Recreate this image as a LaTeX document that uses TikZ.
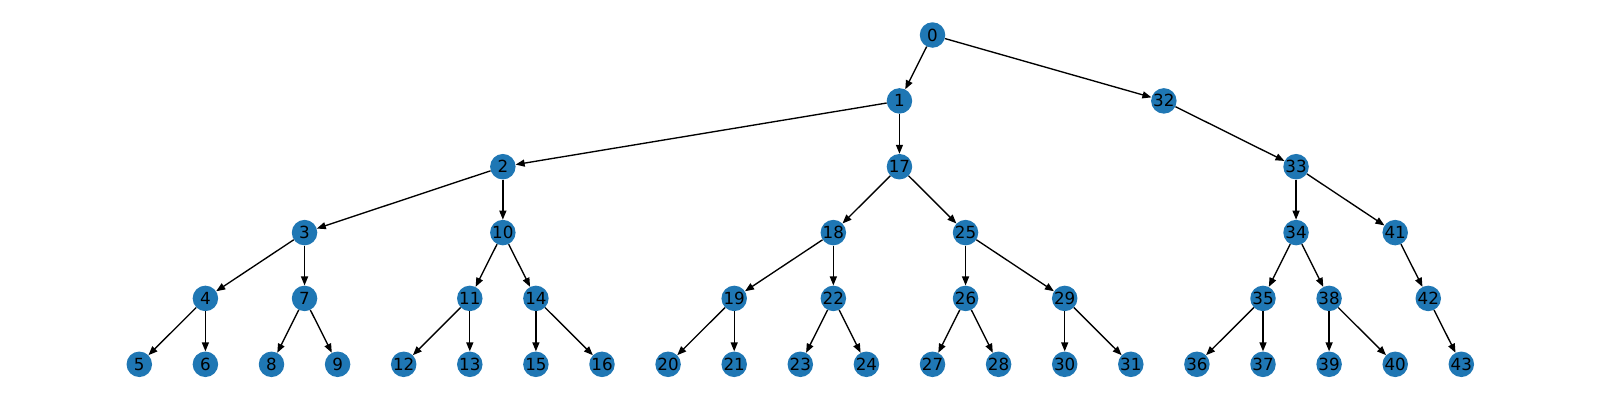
\documentclass[tikz,border=0pt]{standalone}
\usepackage{fontspec}
\setmainfont{DejaVu Sans}
\usetikzlibrary{arrows.meta}
\definecolor{nodeblue}{HTML}{1F77B4}
\begin{document}
\begin{tikzpicture}[x=1pt,y=-1pt,
  vtx/.style={circle,fill=nodeblue,draw=none,minimum size=25.5pt,inner sep=0pt,text=black,font=\fontsize{16.7}{20}\selectfont},
  edge/.style={draw=black,line width=1.35pt,-{Stealth[length=9pt,width=7pt,inset=0pt]}}]
\useasboundingbox (0,0) rectangle (1600,400);
\def\X#1{139.3+66.1*#1}
% row y
\def\ra{35}\def\rb{100.9}\def\rc{166.7}\def\rd{232.6}\def\re{298.4}\def\rf{364.3}
\node[vtx] (n0) at ({\X{12}},\ra) {0};
\node[vtx] (n1) at ({\X{11.5}},\rb) {1};
\node[vtx] (n32) at ({\X{15.5}},\rb) {32};
\node[vtx] (n2) at ({\X{5.5}},\rc) {2};
\node[vtx] (n17) at ({\X{11.5}},\rc) {17};
\node[vtx] (n33) at ({\X{17.5}},\rc) {33};
\node[vtx] (n3) at ({\X{2.5}},\rd) {3};
\node[vtx] (n10) at ({\X{5.5}},\rd) {10};
\node[vtx] (n18) at ({\X{10.5}},\rd) {18};
\node[vtx] (n25) at ({\X{12.5}},\rd) {25};
\node[vtx] (n34) at ({\X{17.5}},\rd) {34};
\node[vtx] (n41) at ({\X{19}},\rd) {41};
\node[vtx] (n4) at ({\X{1}},\re) {4};
\node[vtx] (n7) at ({\X{2.5}},\re) {7};
\node[vtx] (n11) at ({\X{5}},\re) {11};
\node[vtx] (n14) at ({\X{6}},\re) {14};
\node[vtx] (n19) at ({\X{9}},\re) {19};
\node[vtx] (n22) at ({\X{10.5}},\re) {22};
\node[vtx] (n26) at ({\X{12.5}},\re) {26};
\node[vtx] (n29) at ({\X{14}},\re) {29};
\node[vtx] (n35) at ({\X{17}},\re) {35};
\node[vtx] (n38) at ({\X{18}},\re) {38};
\node[vtx] (n42) at ({\X{19.5}},\re) {42};
\node[vtx] (n5) at ({\X{0}},\rf) {5};
\node[vtx] (n6) at ({\X{1}},\rf) {6};
\node[vtx] (n8) at ({\X{2}},\rf) {8};
\node[vtx] (n9) at ({\X{3}},\rf) {9};
\node[vtx] (n12) at ({\X{4}},\rf) {12};
\node[vtx] (n13) at ({\X{5}},\rf) {13};
\node[vtx] (n15) at ({\X{6}},\rf) {15};
\node[vtx] (n16) at ({\X{7}},\rf) {16};
\node[vtx] (n20) at ({\X{8}},\rf) {20};
\node[vtx] (n21) at ({\X{9}},\rf) {21};
\node[vtx] (n23) at ({\X{10}},\rf) {23};
\node[vtx] (n24) at ({\X{11}},\rf) {24};
\node[vtx] (n27) at ({\X{12}},\rf) {27};
\node[vtx] (n28) at ({\X{13}},\rf) {28};
\node[vtx] (n30) at ({\X{14}},\rf) {30};
\node[vtx] (n31) at ({\X{15}},\rf) {31};
\node[vtx] (n36) at ({\X{16}},\rf) {36};
\node[vtx] (n37) at ({\X{17}},\rf) {37};
\node[vtx] (n39) at ({\X{18}},\rf) {39};
\node[vtx] (n40) at ({\X{19}},\rf) {40};
\node[vtx] (n43) at ({\X{20}},\rf) {43};
\foreach \a/\b in {0/1,0/32,1/2,1/17,32/33,2/3,2/10,17/18,17/25,33/34,33/41,
  3/4,3/7,10/11,10/14,18/19,18/22,25/26,25/29,34/35,34/38,41/42,
  4/5,4/6,7/8,7/9,11/12,11/13,14/15,14/16,19/20,19/21,22/23,22/24,
  26/27,26/28,29/30,29/31,35/36,35/37,38/39,38/40,42/43}
  \draw[edge] (n\a) -- (n\b);
\end{tikzpicture}
\end{document}
